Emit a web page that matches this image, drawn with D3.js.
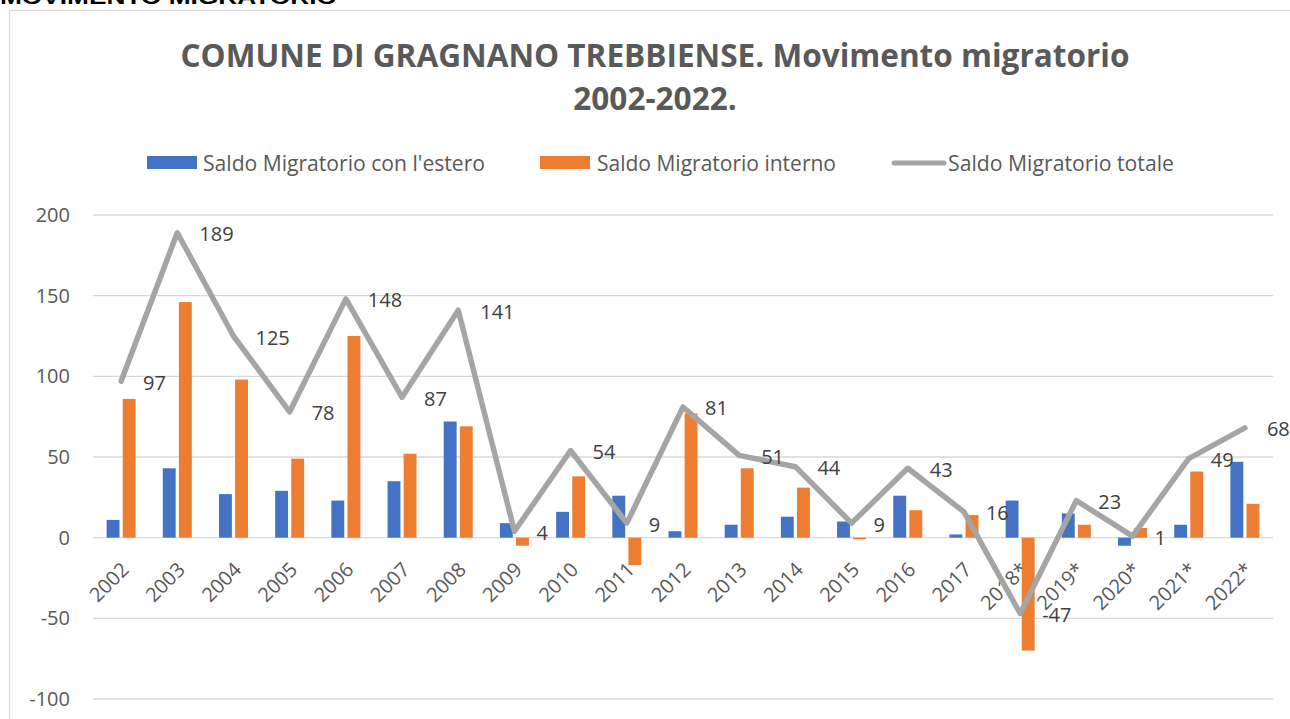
<!DOCTYPE html>
<html>
<head>
<meta charset="utf-8">
<script src="https://cdn.jsdelivr.net/npm/d3@7"></script>
<style>
  body { margin: 0; background: #fff; }
  svg { display: block; font-family: "Open Sans", "Liberation Sans", sans-serif; }
</style>
</head>
<body>
<div id="chart"></div>
<script>
// data
const years = ["2002", "2003", "2004", "2005", "2006", "2007", "2008", "2009", "2010", "2011",
    "2012", "2013", "2014", "2015", "2016", "2017", "2018*", "2019*", "2020*", "2021*", "2022*"];
const saldoEstero = [11, 43, 27, 29, 23, 35, 72, 9, 16, 26, 4, 8, 13, 10, 26, 2, 23, 15, -5, 8, 47];
const saldoInterno = [86, 146, 98, 49, 125, 52, 69, -5, 38, -17, 77, 43, 31, -1, 17, 14, -70, 8, 6, 41, 21];
const saldoTotale = [97, 189, 125, 78, 148, 87, 141, 4, 54, 9, 81, 51, 44, 9, 43, 16, -47, 23, 1, 49, 68];
const yTicks = [-100, -50, 0, 50, 100, 150, 200];
const seriesNames = ["Saldo Migratorio con l'estero", "Saldo Migratorio interno", "Saldo Migratorio totale"];
const colors = ["#4472C4", "#ED7D31", "#A5A5A5"];

const width = 1290, height = 719;
const plot = {left: 93, right: 1273, top: 215, bottom: 699};

const svg = d3.select("#chart").append("svg")
    .attr("width", width)
    .attr("height", height);

// section heading cut off at the top
svg.append("text")
    .attr("x", 0).attr("y", 4)
    .attr("font-family", "Liberation Sans, Arial, sans-serif")
    .attr("font-weight", "bold")
    .attr("font-size", 20)
    .attr("fill", "#000")
    .attr("textLength", 337)
    .attr("lengthAdjust", "spacingAndGlyphs")
    .text("MOVIMENTO MIGRATORIO");

// chart frame
svg.append("rect")
    .attr("x", 9.5).attr("y", 10.5)
    .attr("width", 1300).attr("height", 720)
    .attr("fill", "#fff")
    .attr("stroke", "#D9D9D9")
    .attr("stroke-width", 1.3);

// title
const title1 = svg.append("text")
    .attr("x", 655).attr("y", 67)
    .attr("text-anchor", "middle")
    .attr("font-weight", "bold")
    .attr("font-size", 33)
    .attr("fill", "#595959")
    .text("COMUNE DI GRAGNANO TREBBIENSE. Movimento migratorio");
const title2 = svg.append("text")
    .attr("x", 655).attr("y", 110)
    .attr("text-anchor", "middle")
    .attr("font-weight", "bold")
    .attr("font-size", 33)
    .attr("fill", "#595959")
    .text("2002-2022.");
const squeeze = 949 / title1.node().getComputedTextLength();
title1.attr("textLength", 949).attr("lengthAdjust", "spacingAndGlyphs");
title2.attr("textLength", title2.node().getComputedTextLength() * squeeze).attr("lengthAdjust", "spacingAndGlyphs");

// scales
const x0 = d3.scaleBand()
    .domain(years)
    .range([plot.left, plot.right])
    .paddingInner(0.484)
    .paddingOuter(0.242);

const x1 = d3.scaleBand()
    .domain([0, 1])
    .range([0, x0.bandwidth()])
    .paddingInner(0.2);

const y = d3.scaleLinear()
    .domain([-100, 200])
    .range([plot.bottom, plot.top]);

// gridlines
svg.append("g")
    .selectAll("line")
    .data(yTicks)
    .enter()
    .append("line")
    .attr("x1", plot.left).attr("x2", plot.right)
    .attr("y1", d => y(d)).attr("y2", d => y(d))
    .attr("stroke", "#D9D9D9")
    .attr("stroke-width", 1.3);

// y axis labels
const yAxis = svg.append("g")
    .attr("transform", "translate(" + (plot.left - 2) + ",0)")
    .call(d3.axisLeft(y).tickValues(yTicks).tickSize(0).tickPadding(21).tickFormat(d => String(d)));
yAxis.select(".domain").remove();
yAxis.selectAll("text")
    .attr("font-family", "Open Sans, sans-serif")
    .attr("font-size", 20)
    .attr("fill", "#595959");

// bars
const barSeries = [saldoEstero, saldoInterno];
barSeries.forEach(function(values, s) {
    svg.append("g")
        .selectAll("rect")
        .data(values)
        .enter()
        .append("rect")
        .attr("x", (d, i) => x0(years[i]) + x1(s))
        .attr("width", x1.bandwidth())
        .attr("y", d => y(Math.max(0, d)))
        .attr("height", d => Math.abs(y(d) - y(0)))
        .attr("fill", colors[s]);
});

// x axis labels
const cx = d => x0(d) + x0.bandwidth() / 2;
svg.append("g")
    .selectAll("text")
    .data(years)
    .enter()
    .append("text")
    .attr("transform", d => "translate(" + (cx(d) + 9) + ",571) rotate(-45)")
    .attr("text-anchor", "end")
    .attr("font-size", 20)
    .attr("fill", "#595959")
    .text(d => d);

// total line
const line = d3.line()
    .x((d, i) => cx(years[i]))
    .y(d => y(d));

svg.append("path")
    .datum(saldoTotale)
    .attr("d", line)
    .attr("fill", "none")
    .attr("stroke", colors[2])
    .attr("stroke-width", 5.5)
    .attr("stroke-linejoin", "round")
    .attr("stroke-linecap", "round");

// data labels to the right of the points
svg.append("g")
    .selectAll("text")
    .data(saldoTotale)
    .enter()
    .append("text")
    .attr("x", (d, i) => cx(years[i]) + 22)
    .attr("y", d => y(d) + 1)
    .attr("dominant-baseline", "central")
    .attr("font-size", 20)
    .attr("fill", "#404040")
    .text(d => d);

// legend
const legendItems = [
    {x: 147, textX: 203, w: 282},
    {x: 540, textX: 597, w: 239},
    {x: 894, textX: 948, w: 226}
];
const legendY = 163;
const legend = svg.append("g");
legendItems.forEach(function(item, i) {
    if (i < 2) {
        legend.append("rect")
            .attr("x", item.x).attr("y", legendY - 7)
            .attr("width", 50).attr("height", 13)
            .attr("fill", colors[i]);
    } else {
        legend.append("line")
            .attr("x1", item.x).attr("x2", item.x + 50)
            .attr("y1", legendY).attr("y2", legendY)
            .attr("stroke", colors[i])
            .attr("stroke-width", 5)
            .attr("stroke-linecap", "round");
    }
    legend.append("text")
        .attr("x", item.textX).attr("y", legendY)
        .attr("dominant-baseline", "central")
        .attr("font-size", 21)
        .attr("fill", "#595959")
        .attr("textLength", item.w)
        .attr("lengthAdjust", "spacingAndGlyphs")
        .text(seriesNames[i]);
});
</script>
</body>
</html>
